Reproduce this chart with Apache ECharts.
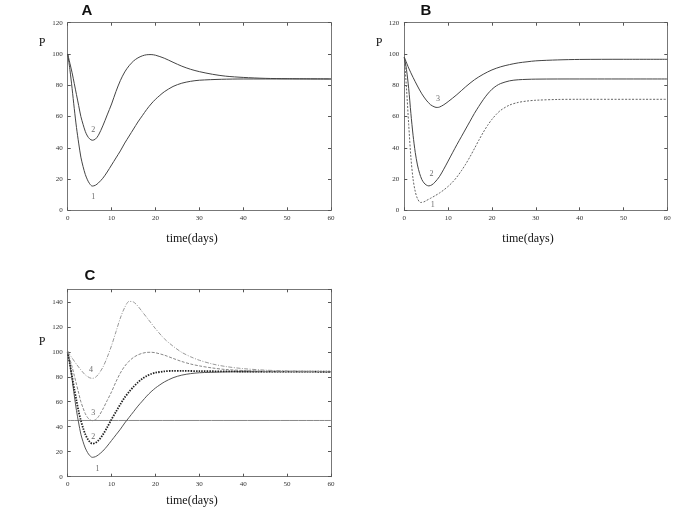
<!DOCTYPE html>
<html>
<head>
<meta charset="utf-8">
<script src="https://cdn.jsdelivr.net/npm/echarts@6/dist/echarts.min.js"></script>
<style>html,body{margin:0;padding:0;background:#fff;}#c{width:685px;height:513px;}</style>
</head>
<body>
<div id="c"></div>
<script>
// ---- Panel A ----
const tA1 = [0,0.5,1,1.5,2,2.5,3,3.5,4,4.5,5,5.6,6.3,7,8,9,10,11,12,13,14,15,16,17,18,19,20,21,22,24,26,28,30,35,40,50,60];
const pA1 = [100,90,78,65,53,43,34,28,23,19.5,17,15.5,16,17.5,20.5,24.5,29,33.5,38,43,47.5,52,56.5,60.5,64.5,68,71,73.5,75.8,79.2,81.3,82.5,83.2,83.8,84,84,84];
const tA2 = [0,0.5,1,1.5,2,2.5,3,3.5,4,4.5,5,5.6,6.3,7,8,9,10,11,12,13,14,15,16,17,18,19,20,22,24,26,28,30,33,36,40,45,50,60];
const pA2 = [100,94,88,81,74,67,60,55,50.5,47.5,45.7,44.8,45.5,48,54,61,68,76,83,88.5,92.5,95.5,97.5,98.8,99.5,99.6,99.2,97.3,94.7,92.2,90.2,88.7,87,85.8,85,84.4,84.2,84];
// ---- Panel B ----
const tB1 = [0,0.5,1,1.5,2,2.5,3,3.7,4.5,5,6,7,8,9,10,11,12,13,14,15,16,17,18,19,20,21,22,24,26,28,30,35,40,60];
const pB1 = [98,78,55,34,20,12,7.5,5,5.4,6.2,7.7,9.3,11,13,15.3,18,21.3,25.2,29.5,34.3,39.5,44.8,49.8,54.3,58.2,61.4,64,67.3,69,69.9,70.4,70.9,71,71];
const tB2 = [0,0.5,1,1.5,2,2.5,3,3.5,4,4.5,5,5.6,6.3,7,8,9,10,11,12,13,14,15,16,17,18,19,20,21,22,24,26,30,40,60];
const pB2 = [98,90,78,62,48,37,29,23.5,19.7,17.5,16.2,15.6,16.3,18,21.5,26.3,31.5,36.8,42,47,52,57,62,66.5,70.7,74.4,77.4,79.6,81.1,82.8,83.5,83.9,84,84];
const tB3 = [0,1,2,3,4,5,6,7,7.5,8,9,10,12,14,16,18,20,22,24,26,28,30,35,40,50,60];
const pB3 = [98,91,85,79.5,74.5,70.5,67.5,66,65.8,66,67.5,69.5,74,79,83.5,87,89.8,91.8,93.2,94.3,95,95.6,96.2,96.5,96.6,96.6];
// ---- Panel C ----
const tC1 = tA1;
const pC1 = [100,90,78,65,53,43,34,28,23,19.5,17,15.5,16,17.5,20.5,24.5,29,33.5,38,43,47.5,52,56.5,60.5,64.5,68,71,73.5,75.8,79.2,81.3,82.5,83.2,83.8,84,84,84];
const tC2 = [0,0.5,1,1.5,2,2.5,3,3.5,4,4.5,5,5.6,6.3,7,8,9,10,11,12,13,14,15,16,17,18,19,20,22,24,26,30,40,60];
const pC2 = [100,90,80,70,61,52,45,39,34,30.5,28,26.5,27,29,33.5,39.5,46,52,58,63.5,68,72,75.5,78.5,80.6,82.2,83.2,84.3,84.7,84.7,84.5,84.2,84];
const tC3 = tA2;
const pC3 = [100,94,88,81,74,67,60,55,50.5,47.5,45.7,44.8,45.5,48,54,61,68,76,83,88.5,92.5,95.5,97.5,98.8,99.5,99.6,99.2,97.3,94.7,92.2,90.2,88.7,87,85.8,85,84.4,84.2,84];
const tC4 = [0,1,2,3,4,5,5.6,6.3,7,8,9,10,11,12,13,14,15,16,17,18,19,20,22,24,26,28,30,33,36,40,45,50,60];
const pC4 = [100,95,90,85.5,81.5,79.2,78.7,79.5,82,87.5,95.5,105,116,127,135.5,140.3,139.8,136.5,132,127.5,123,118.5,110.5,104.5,99.5,96,93.2,90.2,88.2,86.5,85.3,84.7,84.2];
const tC5 = [0,60];
const pC5 = [45,45];
// curve number labels [t, P, text]
const labA = [[5.8,8.7,'1'],[5.8,51.3,'2']];
const labB = [[6.5,3.6,'1'],[6.2,23,'2'],[7.7,71.2,'3']];
const labC = [[6.8,5.9,'1'],[5.8,32,'2'],[5.8,50.7,'3'],[5.3,85.7,'4']];

const zip = (t,p) => t.map((v,i)=>[v,p[i]]);
const serif = 'Liberation Serif, DejaVu Serif, serif';
const sans = 'Liberation Sans, Arial, sans-serif';

const grids = [
  {left:67.7, top:22.7, width:263.3, height:187.6},
  {left:404.3, top:22.7, width:263, height:187.6},
  {left:67.7, top:289.3, width:263.3, height:187.4}
];
const yMax = [120,120,150];
const xAxes = [], yAxes = [];
grids.forEach((g,i)=>{
  const axLine = {show:true, onZero:false, lineStyle:{color:'#777', width:1}};
  const tick = {show:true, inside:true, length:3, lineStyle:{color:'#555'}};
  xAxes.push({gridIndex:i, type:'value', min:0, max:60, interval:10, position:'bottom',
    axisLine:axLine, axisTick:tick, splitLine:{show:false},
    axisLabel:{fontSize:7, fontFamily:serif, color:'#333', margin:4}});
  xAxes.push({gridIndex:i, type:'value', min:0, max:60, interval:10, position:'top',
    axisLine:axLine, axisTick:tick, splitLine:{show:false}, axisLabel:{show:false}});
  yAxes.push({gridIndex:i, type:'value', min:0, max:yMax[i], interval:20, position:'left',
    axisLine:axLine, axisTick:tick, splitLine:{show:false},
    axisLabel:{fontSize:7, fontFamily:serif, color:'#333', margin:5,
      showMaxLabel: yMax[i] % 20 === 0}});
  yAxes.push({gridIndex:i, type:'value', min:0, max:yMax[i], interval:20, position:'right',
    axisLine:axLine, axisTick:tick, splitLine:{show:false}, axisLabel:{show:false}});
});

function line(gi, t, p, color, width, type){
  return {type:'line', xAxisIndex:gi*2, yAxisIndex:gi*2, data:zip(t,p), showSymbol:false,
    smooth:0.3, lineStyle:{color:color, width:width, type:type}, silent:true, z:3};
}
function labels(gi, arr){
  return {type:'scatter', xAxisIndex:gi*2, yAxisIndex:gi*2, symbolSize:0.1,
    itemStyle:{color:'rgba(0,0,0,0)'}, silent:true, z:5,
    data:arr.map(a=>({value:[a[0],a[1]], name:a[2]})),
    label:{show:true, position:'inside', formatter:'{b}', fontSize:8, fontFamily:serif, color:'#444'}};
}

const series = [
  line(0,tA1,pA1,'#444',1,'solid'),
  line(0,tA2,pA2,'#444',1,'solid'),
  labels(0,labA),
  line(1,tB1,pB1,'#666',1,[2,1.5]),
  line(1,tB2,pB2,'#444',1,'solid'),
  line(1,tB3,pB3,'#444',1,'solid'),
  labels(1,labB),
  line(2,tC5,pC5,'#888',1,'solid'),
  line(2,tC1,pC1,'#555',1,'solid'),
  line(2,tC2,pC2,'#222',1.8,[1.5,1.2]),
  line(2,tC3,pC3,'#888',1,[3,1.5]),
  line(2,tC4,pC4,'#999',1,[4,1.5,1,1.5]),
  labels(2,labC)
];

const txt = (x,y,s,size,font,weight)=>({type:'text', x:x, y:y,
  style:{text:s, fontSize:size, fontFamily:font, fontWeight:weight||'normal', fill:'#111',
    textAlign:'center', textVerticalAlign:'middle'}});

const option = {
  animation:false,
  backgroundColor:'#fff',
  grid:grids.map(g=>Object.assign({containLabel:false}, g)),
  xAxis:xAxes, yAxis:yAxes, series:series,
  graphic:[
    txt(87,11,'A',15,sans,'bold'),
    txt(426,11,'B',15,sans,'bold'),
    txt(90,276,'C',15,sans,'bold'),
    txt(42,43,'P',12,serif),
    txt(379,43,'P',12,serif),
    txt(42,342,'P',12,serif),
    txt(192,239,'time(days)',12,serif),
    txt(528,239,'time(days)',12,serif),
    txt(192,501,'time(days)',12,serif)
  ]
};
echarts.init(document.getElementById('c')).setOption(option);
</script>
</body>
</html>
